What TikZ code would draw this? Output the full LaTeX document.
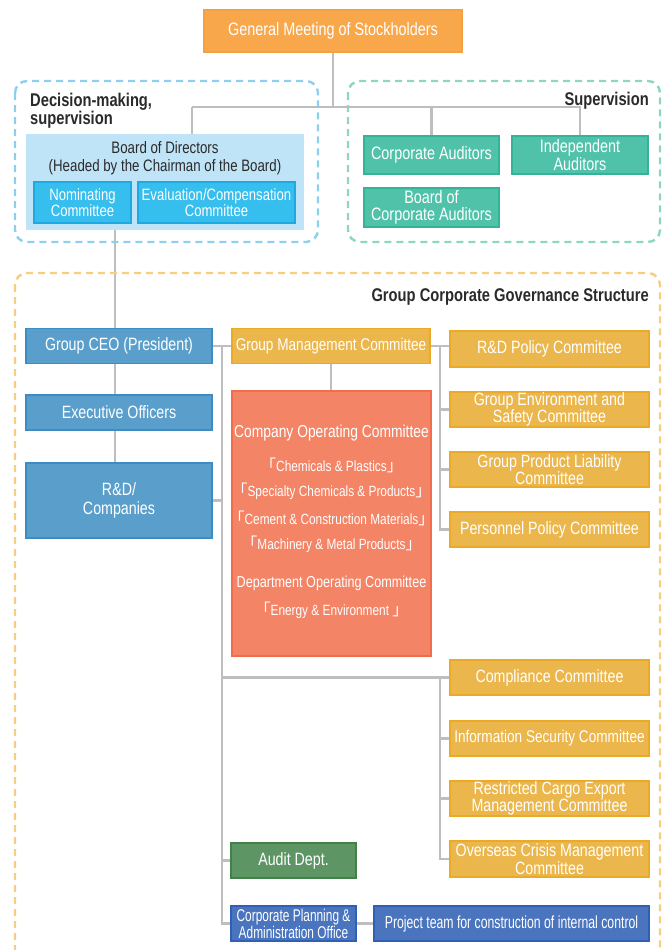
\documentclass[tikz,border=0pt]{standalone}
\usepackage{fontspec}
\setmainfont{Liberation Sans}[FakeStretch=0.8]
\newfontfamily\narrowfont{Liberation Sans}[FakeStretch=0.7]
\newfontfamily\cjkfont{Noto Sans CJK JP}
\usetikzlibrary{backgrounds}

\definecolor{cGM}{HTML}{F9A74B}
\definecolor{cGMl}{HTML}{F6A040}
\definecolor{cBoard}{HTML}{C0E4F7}
\definecolor{cCyan}{HTML}{36BEEE}
\definecolor{cCyanl}{HTML}{1EAAE1}
\definecolor{cTeal}{HTML}{50C2AA}
\definecolor{cTeall}{HTML}{33B397}
\definecolor{cBlue}{HTML}{5A9FCB}
\definecolor{cBluel}{HTML}{3D8CC3}
\definecolor{cGold}{HTML}{EBB64B}
\definecolor{cGoldl}{HTML}{EAAA25}
\definecolor{cSalmon}{HTML}{F48466}
\definecolor{cSalmonl}{HTML}{F26D4E}
\definecolor{cGreen}{HTML}{5E9565}
\definecolor{cGreenl}{HTML}{428249}
\definecolor{cDBlue}{HTML}{4A74BE}
\definecolor{cDBluel}{HTML}{2F5FB6}
\definecolor{cConn}{HTML}{BEBEBE}
\definecolor{cDec}{HTML}{8DCFEF}
\definecolor{cSup}{HTML}{8FD5C4}
\definecolor{cGov}{HTML}{F7CD82}
\definecolor{cHdr}{HTML}{2A2A2A}

\newcommand\setfs[2]{\fontsize{#1}{#2}\selectfont}
\newcommand\brOpen{{\cjkfont\fontsize{16}{14}\selectfont 「}}
\newcommand\brClose{{\cjkfont\fontsize{16}{14}\selectfont 」}}

\begin{document}
\begin{tikzpicture}[x=1pt, y=-1pt,
  base/.style={rectangle, line width=1.3pt, text=white, align=center, inner sep=0pt, font=\setfs{17.8}{15.8}},
  gmbox/.style={base, fill=cGM, draw=cGMl},
  lbbox/.style={rectangle, fill=cBoard, draw=none, inner sep=0pt},
  cybox/.style={base, fill=cCyan, draw=cCyanl, font=\setfs{16.4}{15.5}},
  tlbox/.style={base, fill=cTeal, draw=cTeall, font=\setfs{18}{16.5}},
  blbox/.style={base, fill=cBlue, draw=cBluel},
  gdbox/.style={base, fill=cGold, draw=cGoldl},
  sabox/.style={base, fill=cSalmon, draw=cSalmonl},
  grbox/.style={base, fill=cGreen, draw=cGreenl},
  dbbox/.style={base, fill=cDBlue, draw=cDBluel},
  conn/.style={draw=cConn, line width=2.4pt},
  grpframe/.style={draw=#1, line width=2.4pt, dash pattern=on 7pt off 5pt, rounded corners=12pt},
  hdr/.style={font=\bfseries\setfs{18.4}{17}, text=cHdr, inner sep=0pt},
  txt/.style={text=white, inner sep=0pt},
  board txt/.style={text=cHdr, inner sep=0pt, font=\setfs{16.6}{15}},
]
\useasboundingbox (0,0) rectangle (663,950);
\clip (0,0) rectangle (663,950);

% dashed group frames
\draw[grpframe=cDec] (15,81) rectangle (318,242);
\draw[grpframe=cSup] (348,81) rectangle (660,242);
\draw[grpframe=cGov] (15,273) rectangle (660,965);

% frame titles
\node[hdr, anchor=north west, align=left] (lblDec) at (30,93) {Decision-making,\\supervision};
\node[hdr, anchor=base east] (lblSup) at (649,105) {Supervision};
\node[hdr, anchor=base east] (lblGov) at (649,301) {Group Corporate Governance Structure};

% top level
\node[gmbox, minimum width=258pt, minimum height=42pt, font=\setfs{18}{16}] (gm) at (333,31) {General Meeting of Stockholders};

% board of directors and its committees
\node[lbbox, minimum width=278pt, minimum height=96pt] (board) at (165,182) {};
\node[board txt] (boardT1) at (165,148) {Board of Directors};
\node[board txt] (boardT2) at (165,167) {(Headed by the Chairman of the Board)};
\node[cybox, minimum width=97pt, minimum height=41pt] (nom) at (82.5,202.5) {Nominating\\Committee};
\node[cybox, minimum width=157pt, minimum height=41pt] (eval) at (216.5,202.5) {Evaluation/Compensation\\Committee};

% auditors
\node[tlbox, minimum width=135pt, minimum height=38pt] (ca) at (431.5,155) {Corporate Auditors};
\node[tlbox, minimum width=136pt, minimum height=38pt] (ia) at (580,155) {Independent\\Auditors};
\node[tlbox, minimum width=135pt, minimum height=39pt] (bca) at (431.5,207.5) {Board of\\Corporate Auditors};

% executive line
\node[blbox, minimum width=186pt, minimum height=35pt] (ceo) at (119,346) {Group CEO (President)};
\node[blbox, minimum width=186pt, minimum height=35pt] (exec) at (119,412.5) {Executive Officers};
\node[blbox, minimum width=186pt, minimum height=75pt, font=\setfs{17.8}{18.5}] (rd) at (119,500.5) {R\&D/\\Companies};

% management committees
\node[gdbox, minimum width=198pt, minimum height=35pt, font=\setfs{17}{15}] (gmc) at (331,346) {Group Management Committee};
\node[sabox, minimum width=199pt, minimum height=265pt] (coc) at (331.5,523.5) {};
\node[txt, font=\setfs{17.3}{16}] (cocT) at (331.5,433) {Company Operating Committee};
\node[txt, font=\setfs{14.8}{14}] (cocA) at (331.5,465) {\brOpen Chemicals \& Plastics\brClose};
\node[txt, font=\setfs{14.8}{14}] (cocB) at (331.5,491.5) {\brOpen Specialty Chemicals \& Products\brClose};
\node[txt, font=\setfs{14.8}{14}] (cocC) at (331.5,518) {\brOpen Cement \& Construction Materials\brClose};
\node[txt, font=\setfs{14.8}{14}] (cocD) at (331.5,544.5) {\brOpen Machinery \& Metal Products\brClose};
\node[txt, font=\setfs{15.8}{16}] (docT) at (331.5,583) {Department Operating Committee};
\node[txt, font=\setfs{14.8}{14}] (docA) at (331.5,610) {\brOpen Energy \& Environment \brClose};

% policy committees
\node[gdbox, minimum width=199pt, minimum height=36pt] (rdp) at (549.5,349) {R\&D Policy Committee};
\node[gdbox, minimum width=199pt, minimum height=35pt] (env) at (549.5,409.5) {Group Environment and\\Safety Committee};
\node[gdbox, minimum width=199pt, minimum height=35pt] (pl) at (549.5,469.5) {Group Product Liability\\Committee};
\node[gdbox, minimum width=199pt, minimum height=35pt] (ppc) at (549.5,529.5) {Personnel Policy Committee};

% compliance committees
\node[gdbox, minimum width=199pt, minimum height=35pt] (comp) at (549.5,677.5) {Compliance Committee};
\node[gdbox, minimum width=199pt, minimum height=35pt, font=\setfs{17}{15}] (isc) at (549.5,738.5) {Information Security Committee};
\node[gdbox, minimum width=199pt, minimum height=35pt] (rce) at (549.5,798.5) {Restricted Cargo Export\\Management Committee};
\node[gdbox, minimum width=199pt, minimum height=36pt] (ocm) at (549.5,859) {Overseas Crisis Management\\Committee};

% staff offices
\node[grbox, minimum width=125pt, minimum height=35pt] (audit) at (293.5,860.5) {Audit Dept.};
\node[dbbox, minimum width=125pt, minimum height=35pt, font=\narrowfont\setfs{17}{17}] (cpo) at (293.5,923.5) {Corporate Planning \&\\Administration Office};
\node[dbbox, minimum width=275pt, minimum height=35pt, font=\narrowfont\setfs{17.5}{17}] (pt) at (511.5,923.5) {Project team for construction of internal control};

% connectors
\begin{pgfonlayer}{background}
\coordinate (jb) at (192,107);
\coordinate (vx) at (115,0);
\coordinate (lx) at (222,0);
\coordinate (rx) at (440,0);
\draw[conn] (gm.south) -- (gm.south |- jb);
\draw[conn] (jb) -- (jb |- board.north);
\draw[conn] (jb) -| (ca.north);
\draw[conn] (jb) -| (ia.north);
\draw[conn] (board.south -| vx) -- (ceo.north -| vx);
\draw[conn] (ceo.south -| vx) -- (exec.north -| vx);
\draw[conn] (exec.south -| vx) -- (rd.north -| vx);
\draw[conn] (ceo.east) -- (gmc.west);
\draw[conn] (ceo.east -| lx) |- (cpo.west);
\draw[conn] (rd.east) -- (rd.east -| lx);
\draw[conn] (comp.west -| lx) -- (comp.west);
\draw[conn] (audit.west -| lx) -- (audit.west);
\draw[conn] (cpo.east) -- (pt.west);
\draw[conn] (gmc.south) -- (gmc.south |- coc.north);
\draw[conn] (gmc.east) -- (gmc.east -| rdp.west);
\draw[conn] (gmc.east -| rx) |- (ppc.west);
\draw[conn] (env.west -| rx) -- (env.west);
\draw[conn] (pl.west -| rx) -- (pl.west);
\draw[conn] (comp.west -| rx) |- (ocm.west);
\draw[conn] (isc.west -| rx) -- (isc.west);
\draw[conn] (rce.west -| rx) -- (rce.west);
\end{pgfonlayer}
\end{tikzpicture}
\end{document}
